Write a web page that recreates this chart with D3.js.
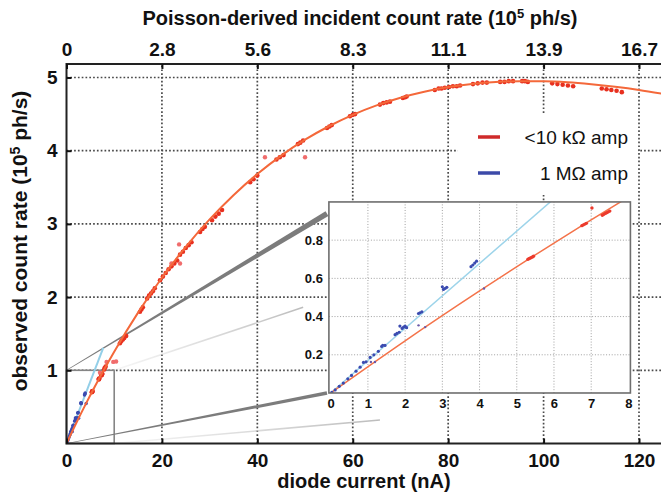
<!DOCTYPE html>
<html>
<head>
<meta charset="utf-8">
<script src="https://cdn.jsdelivr.net/npm/d3@7"></script>
<style>
	body { margin: 0; background: #fff; }
	text { font-family: "Liberation Sans", Arial, sans-serif; }
</style>
</head>
<body>
<div id="chart"></div>
<script>
// axis ticks
let xTicks = [0, 20, 40, 60, 80, 100, 120];
let topTickLabels = ['0', '2.8', '5.6', '8.3', '11.1', '13.9', '16.7'];
let yTicks = [1, 2, 3, 4, 5];
let insetXTicks = [0, 1, 2, 3, 4, 5, 6, 7, 8];
let insetYTicks = [0.2, 0.4, 0.6, 0.8];
let legendLabels = ['<10 kΩ amp', '1 MΩ amp'];

// fitted dead-time curve, diode current (nA) -> observed rate (1e5 ph/s)
let fitCurve = [
	[0, 0], [2, 0.273], [4, 0.534], [6, 0.785], [8, 1.025], [10, 1.255],
	[15, 1.788], [20, 2.264], [25, 2.687], [30, 3.062], [35, 3.392],
	[40, 3.681], [45, 3.933], [50, 4.150], [55, 4.334], [60, 4.490],
	[65, 4.619], [70, 4.724], [75, 4.806], [80, 4.869], [85, 4.912],
	[90, 4.939], [95, 4.950], [100, 4.949], [105, 4.935], [110, 4.908],
	[115, 4.873], [120, 4.830], [125, 4.777]
];

// 1 MOhm amp linear fit
let slowAmpLine = [[0, 0], [7.7, 1.305]];

// <10 kOhm amp measurements
let fastAmpPoints = [
	[5.30, 0.700], [5.34, 0.704], [5.38, 0.708], [5.42, 0.712], [5.45, 0.716],
	[6.75, 0.876], [6.79, 0.880], [6.83, 0.884], [6.87, 0.888],
	[7.30, 0.930], [7.34, 0.935], [7.38, 0.940], [7.42, 0.944], [7.46, 0.948], [7.50, 0.952],
	[7.9, 1.01], [8.0, 1.03], [8.2, 1.05],
	[11.2, 1.37], [11.5, 1.40], [11.8, 1.42], [12.1, 1.44], [12.5, 1.47],
	[15.4, 1.80], [15.7, 1.83], [16.0, 1.86],
	[16.9, 1.98], [17.3, 2.02], [17.7, 2.05], [18.1, 2.08], [18.5, 2.12],
	[19.6, 2.23], [20.2, 2.28], [20.8, 2.33], [21.4, 2.38], [22.0, 2.42], [22.6, 2.46], [23.2, 2.50],
	[23.8, 2.58], [24.4, 2.62], [25.0, 2.67], [25.6, 2.71], [26.2, 2.75],
	[28.0, 2.89], [28.5, 2.93], [29.0, 2.96],
	[30.5, 3.05], [31.2, 3.10], [31.9, 3.14], [32.6, 3.19],
	[38.5, 3.57], [39.2, 3.61], [40.0, 3.66],
	[44.0, 3.88], [44.7, 3.91], [45.5, 3.94],
	[48.5, 4.09], [49.0, 4.11], [49.6, 4.14],
	[54.6, 4.31], [55.1, 4.33], [55.6, 4.35],
	[59.4, 4.47], [60.0, 4.49], [60.5, 4.50],
	[65.7, 4.63], [66.4, 4.65], [67.1, 4.66], [67.8, 4.67],
	[70.5, 4.72], [71.0, 4.73], [71.3, 4.74],
	[77.2, 4.83], [78.0, 4.85], [78.6, 4.85], [79.3, 4.86],
	[80.2, 4.87], [81.0, 4.88], [81.8, 4.88], [82.5, 4.89],
	[85.2, 4.91], [86.2, 4.92], [87.2, 4.93], [88.1, 4.93],
	[90.9, 4.94], [91.8, 4.94], [92.7, 4.95], [93.6, 4.95],
	[95.5, 4.95], [96.1, 4.95], [96.7, 4.94],
	[101.8, 4.92], [102.9, 4.91], [104.0, 4.90], [105.1, 4.89], [106.2, 4.88],
	[112.2, 4.85], [113.2, 4.84], [114.2, 4.83], [115.3, 4.82], [116.4, 4.80]
];
let fastAmpOutliers = [
	[7.02, 0.968], [8.4, 1.115], [9.8, 1.115], [10.4, 1.12],
	[22.0, 2.46], [23.8, 2.46], [23.6, 2.72], [41.6, 3.91], [50.0, 3.91]
];

// 1 MOhm amp measurements
let slowAmpPoints = [
	[0.03, 0.004], [0.12, 0.016], [0.23, 0.035], [0.34, 0.052], [0.46, 0.074],
	[0.56, 0.092], [0.68, 0.114], [0.79, 0.135], [0.88, 0.160], [0.95, 0.163],
	[1.06, 0.186], [1.16, 0.200], [1.28, 0.218], [1.37, 0.244], [1.40, 0.250], [1.46, 0.249],
	[1.73, 0.305], [1.78, 0.312], [1.84, 0.318], [1.86, 0.350], [1.92, 0.338],
	[1.96, 0.345], [2.00, 0.350], [2.04, 0.342],
	[2.36, 0.416], [2.40, 0.420], [2.45, 0.425],
	[3.00, 0.556], [3.03, 0.542], [3.08, 0.548], [3.12, 0.553],
	[3.77, 0.661], [3.82, 0.670], [3.87, 0.680], [3.92, 0.690]
];
let slowAmpStray = [[1.08, 0.162], [1.19, 0.162], [2.36, 0.354], [2.54, 0.345], [4.12, 0.547]];

let width = 661;
let height = 493;

let svg = d3.select('#chart')
	.append('svg')
	.attr('width', width)
	.attr('height', height)
	.style('display', 'block');

let x = d3.scaleLinear().domain([0, 120]).range([66.5, 639]);
let y = d3.scaleLinear().domain([0, 5]).range([443.5, 77.5]);
let xMax = 126;
let yTop = 5.185;

let defs = svg.append('defs');
defs.append('clipPath').attr('id', 'mainClip')
	.append('rect')
	.attr('x', x(0)).attr('y', y(yTop))
	.attr('width', x(xMax) - x(0)).attr('height', y(0) - y(yTop));

let line = d3.line().x(d => x(d[0])).y(d => y(d[1]));

// grid
let grid = svg.append('g')
	.attr('stroke', '#4a4a4a')
	.attr('stroke-width', 1.7)
	.attr('stroke-dasharray', '1.7 2.1');
grid.selectAll('.vg')
	.data(xTicks.filter(d => d > 0))
	.enter()
	.append('line')
	.attr('x1', d => x(d)).attr('x2', d => x(d))
	.attr('y1', y(0)).attr('y2', y(yTop));
grid.selectAll('.hg')
	.data(yTicks)
	.enter()
	.append('line')
	.attr('x1', x(0)).attr('x2', x(xMax))
	.attr('y1', d => y(d)).attr('y2', d => y(d));

// zoom box in the main plot
let zoomBox = { x0: 0, x1: 10, y0: 0, y1: 1 };
svg.append('rect')
	.attr('x', x(zoomBox.x0)).attr('y', y(zoomBox.y1))
	.attr('width', x(zoomBox.x1) - x(zoomBox.x0))
	.attr('height', y(zoomBox.y0) - y(zoomBox.y1))
	.attr('fill', 'white')
	.attr('stroke', '#858585')
	.attr('stroke-width', 1.6);

// inset frame, in main-plot units
let insetBox = { x0: 55, x1: 118.2, y0: 0.69, y1: 3.30 };

// projection lines from the zoom box to the inset
let fadeGrad = (id, p0, p1) => {
	let g = defs.append('linearGradient').attr('id', id)
		.attr('gradientUnits', 'userSpaceOnUse')
		.attr('x1', x(p0[0])).attr('y1', y(p0[1]))
		.attr('x2', x(p1[0])).attr('y2', y(p1[1]));
	g.append('stop').attr('offset', 0).attr('stop-color', '#c8c8c8').attr('stop-opacity', 0.15);
	g.append('stop').attr('offset', 1).attr('stop-color', '#bcbcbc').attr('stop-opacity', 1);
};
let faint = [
	{ id: 'f1', from: [10, 1], to: [49.6, 1.86] },
	{ id: 'f2', from: [10, 0], to: [65.7, 0.32] }
];
faint.forEach(f => {
	fadeGrad(f.id, f.from, f.to);
	svg.append('path')
		.attr('d', line([f.from, f.to]))
		.attr('stroke', `url(#${f.id})`)
		.attr('stroke-width', 1.6)
		.attr('fill', 'none');
});

let wedges = [
	{ from: [0, 1], to: [54.6, 3.14], w0: 0.7, w1: 5.5 },
	{ from: [0, 0], to: [54.6, 0.69], w0: 0.7, w1: 3.8 }
];
wedges.forEach(w => {
	let ax = x(w.from[0]), ay = y(w.from[1]);
	let bx = x(w.to[0]), by = y(w.to[1]);
	let len = Math.hypot(bx - ax, by - ay);
	let nx = -(by - ay) / len, ny = (bx - ax) / len;
	let pts = [
		[ax + nx * w.w0 / 2, ay + ny * w.w0 / 2],
		[bx + nx * w.w1 / 2, by + ny * w.w1 / 2],
		[bx - nx * w.w1 / 2, by - ny * w.w1 / 2],
		[ax - nx * w.w0 / 2, ay - ny * w.w0 / 2]
	];
	svg.append('path')
		.attr('d', d3.line()(pts) + 'Z')
		.attr('fill', '#7c7c7c');
});

// main data
let main = svg.append('g').attr('clip-path', 'url(#mainClip)');

main.append('path')
	.attr('d', line(slowAmpLine))
	.attr('fill', 'none')
	.attr('stroke', '#93cfe8')
	.attr('stroke-width', 2);

main.selectAll('.rp')
	.data(fastAmpPoints)
	.enter()
	.append('circle')
	.attr('cx', d => x(d[0])).attr('cy', d => y(d[1]))
	.attr('r', 2.3)
	.attr('fill', '#e8301f');

main.selectAll('.ro')
	.data(fastAmpOutliers)
	.enter()
	.append('circle')
	.attr('cx', d => x(d[0])).attr('cy', d => y(d[1]))
	.attr('r', 2.2)
	.attr('fill', '#f06c6c');

main.selectAll('.bp')
	.data(slowAmpPoints.concat(slowAmpStray))
	.enter()
	.append('circle')
	.attr('cx', d => x(d[0])).attr('cy', d => y(d[1]))
	.attr('r', 1.7)
	.attr('fill', '#3b4bb0');

main.append('path')
	.attr('d', d3.line().curve(d3.curveMonotoneX).x(d => x(d[0])).y(d => y(d[1]))(fitCurve))
	.attr('fill', 'none')
	.attr('stroke', '#f4683a')
	.attr('stroke-width', 2);

// legend
svg.append('rect')
	.attr('x', 458).attr('y', 114)
	.attr('width', 180).attr('height', 81)
	.attr('fill', 'white');

let legendColors = ['#cf2a2a', '#3c4aa8'];
let legend = svg.selectAll('.legend')
	.data(legendLabels)
	.enter()
	.append('g')
	.attr('transform', (d, i) => `translate(0, ${137 + i * 36})`);
legend.append('line')
	.attr('x1', 478).attr('x2', 500)
	.attr('stroke', (d, i) => legendColors[i])
	.attr('stroke-width', 3.5);
legend.append('text')
	.attr('x', 628).attr('y', 6.5)
	.attr('text-anchor', 'end')
	.style('font-size', '19px')
	.attr('fill', '#111')
	.text(d => d);

// inset
let iL = x(insetBox.x0), iR = x(insetBox.x1), iT = y(insetBox.y1), iB = y(insetBox.y0);
let xi = d3.scaleLinear().domain([0, 8]).range([iL + 1.8, iR - 2]);
let yi = d3.scaleLinear().domain([0, 1]).range([iB, iT]);
let inset = svg.append('g');

defs.append('clipPath').attr('id', 'insetClip')
	.append('rect')
	.attr('x', iL).attr('y', iT)
	.attr('width', iR - iL).attr('height', iB - iT);

inset.append('rect')
	.attr('x', iL).attr('y', iT)
	.attr('width', iR - iL).attr('height', iB - iT)
	.attr('fill', 'white');

let igrid = inset.append('g')
	.attr('stroke', '#a0a0a0')
	.attr('stroke-width', 1)
	.attr('stroke-dasharray', '1 1.8');
igrid.selectAll('.ivg')
	.data(insetXTicks.filter(d => d > 0 && d < 8))
	.enter()
	.append('line')
	.attr('x1', d => xi(d)).attr('x2', d => xi(d))
	.attr('y1', iB).attr('y2', iT);
igrid.selectAll('.ihg')
	.data(insetYTicks)
	.enter()
	.append('line')
	.attr('x1', iL).attr('x2', iR)
	.attr('y1', d => yi(d)).attr('y2', d => yi(d));

let iline = d3.line().x(d => xi(d[0])).y(d => yi(d[1]));
let idata = inset.append('g').attr('clip-path', 'url(#insetClip)');

idata.append('path')
	.attr('d', iline(slowAmpLine))
	.attr('fill', 'none')
	.attr('stroke', '#9dd4ea')
	.attr('stroke-width', 1.5);
idata.append('path')
	.attr('d', d3.line().curve(d3.curveMonotoneX).x(d => xi(d[0])).y(d => yi(d[1]))(fitCurve))
	.attr('fill', 'none')
	.attr('stroke', '#f4734a')
	.attr('stroke-width', 1.5);

idata.selectAll('.irp')
	.data(fastAmpPoints.concat(fastAmpOutliers))
	.enter()
	.append('circle')
	.attr('cx', d => xi(d[0])).attr('cy', d => yi(d[1]))
	.attr('r', 1.7)
	.attr('fill', '#ec3a2c');
idata.selectAll('.ibp')
	.data(slowAmpPoints)
	.enter()
	.append('circle')
	.attr('cx', d => xi(d[0])).attr('cy', d => yi(d[1]))
	.attr('r', 1.6)
	.attr('fill', '#3b4bb0');
idata.selectAll('.ibs')
	.data(slowAmpStray)
	.enter()
	.append('circle')
	.attr('cx', d => xi(d[0])).attr('cy', d => yi(d[1]))
	.attr('r', 1.2)
	.attr('fill', '#6a5aa8');

inset.append('rect')
	.attr('x', iL).attr('y', iT)
	.attr('width', iR - iL).attr('height', iB - iT)
	.attr('fill', 'none')
	.attr('stroke', '#6e6e6e')
	.attr('stroke-width', 1.6);

let ixAxis = inset.append('g')
	.attr('transform', `translate(0, ${iB})`)
	.call(d3.axisBottom(xi).tickValues(insetXTicks).tickSize(0).tickPadding(6));
let iyAxis = inset.append('g')
	.attr('transform', `translate(${iL}, 0)`)
	.call(d3.axisLeft(yi).tickValues(insetYTicks).tickSize(0).tickPadding(6).tickFormat(d3.format('.1f')));
[ixAxis, iyAxis].forEach(a => {
	a.select('.domain').remove();
	a.selectAll('text')
		.style('font-size', '13px')
		.style('font-weight', 'bold')
		.attr('fill', '#111');
});

// main frame and axes
svg.append('path')
	.attr('d', `M${x(xMax)},${y(yTop)} L${x(0)},${y(yTop)} L${x(0)},${y(0)} L${x(xMax)},${y(0)}`)
	.attr('fill', 'none')
	.attr('stroke', '#222')
	.attr('stroke-width', 2);

let bottomAxis = svg.append('g')
	.attr('transform', `translate(0, ${y(0)})`)
	.call(d3.axisBottom(x).tickValues(xTicks).tickSize(-5).tickPadding(10));
let topAxis = svg.append('g')
	.attr('transform', `translate(0, ${y(yTop)})`)
	.call(d3.axisTop(x).tickValues(xTicks).tickSize(-5).tickPadding(8)
		.tickFormat((d, i) => topTickLabels[i]));
let leftAxis = svg.append('g')
	.attr('transform', `translate(${x(0)}, 0)`)
	.call(d3.axisLeft(y).tickValues(yTicks).tickSize(-5).tickPadding(9).tickFormat(d3.format('d')));
[bottomAxis, topAxis, leftAxis].forEach(a => {
	a.select('.domain').remove();
	a.selectAll('line').attr('stroke', '#111').attr('stroke-width', 2);
	a.selectAll('text')
		.style('font-size', '19px')
		.style('font-weight', 'bold')
		.attr('fill', '#111');
});

// axis titles
let topTitle = svg.append('text')
	.attr('x', 360).attr('y', 25)
	.attr('text-anchor', 'middle')
	.style('font-size', '20px')
	.style('font-weight', 'bold')
	.attr('fill', '#111');
topTitle.append('tspan').text('Poisson-derived incident count rate (10');
topTitle.append('tspan').attr('dy', -7).style('font-size', '13px').text('5');
topTitle.append('tspan').attr('dy', 7).text(' ph/s)');

svg.append('text')
	.attr('x', 364).attr('y', 488)
	.attr('text-anchor', 'middle')
	.style('font-size', '20px')
	.style('font-weight', 'bold')
	.attr('fill', '#111')
	.text('diode current (nA)');

let yTitle = svg.append('text')
	.attr('transform', 'translate(27, 241) rotate(-90)')
	.attr('text-anchor', 'middle')
	.style('font-size', '21px')
	.style('font-weight', 'bold')
	.attr('fill', '#111');
yTitle.append('tspan').text('observed count rate (10');
yTitle.append('tspan').attr('dy', -7).style('font-size', '14px').text('5');
yTitle.append('tspan').attr('dy', 7).text(' ph/s)');
</script>
</body>
</html>
